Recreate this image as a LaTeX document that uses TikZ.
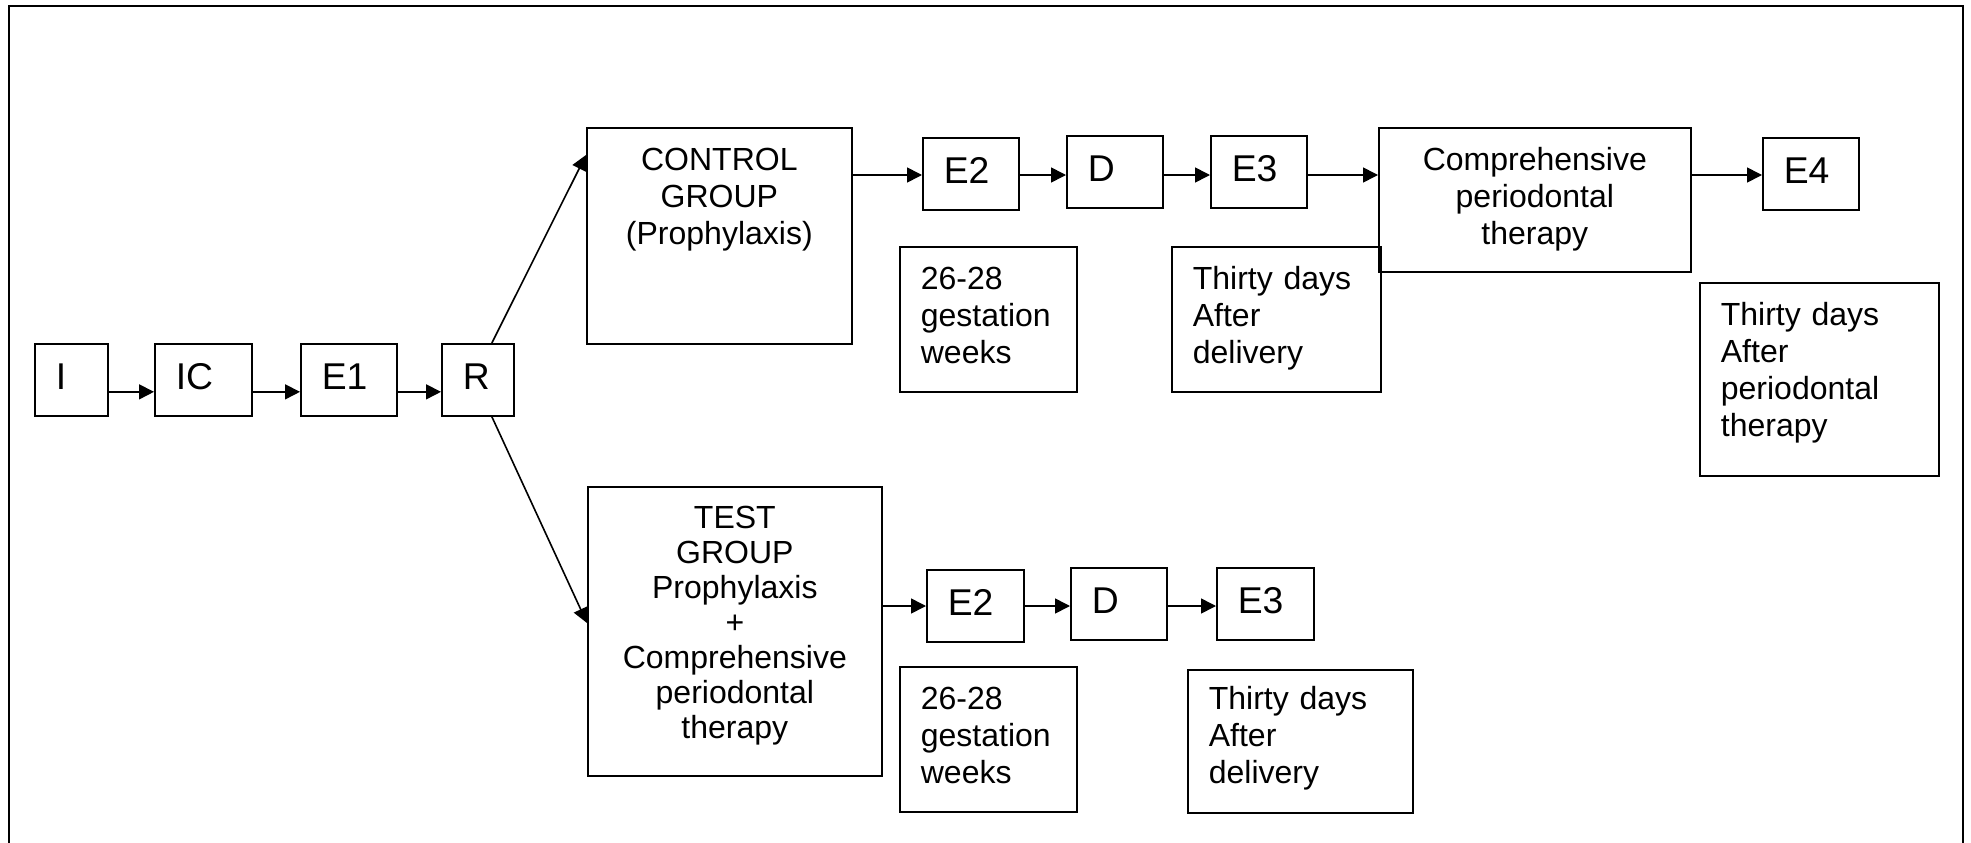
\documentclass[tikz,border=0pt]{standalone}
\usepackage{fontspec}
\setmainfont{Liberation Sans}
\usetikzlibrary{arrows.meta}

\begin{document}
\begin{tikzpicture}[x=1pt,y=-1pt,
    stage/.style={draw,line width=1.7pt,anchor=north west,inner xsep=21pt,inner ysep=0pt,
        minimum height=72pt,text height=27pt,text depth=7pt,align=left,
        font=\fontsize{37.3}{43}\selectfont},
    note/.style={draw,line width=1.7pt,anchor=north west,inner xsep=21pt,inner ysep=0pt,
        text height=43pt,align=left,font=\fontsize{32}{36.8}\selectfont},
    group/.style={note,inner xsep=8pt,align=center},
    flow/.style={line width=1.6pt,-{Triangle[length=15pt,width=15pt]}}]
    \useasboundingbox (0,0) rectangle (1971,843);
    \draw[line width=2pt] (9,843) -- (9,6) -- (1963,6) -- (1963,843);

    \node[stage,text width=31pt] (in) at (34,343) {I};
    \node[stage,text width=55pt] (ic) at (154,343) {IC};
    \node[stage,text width=54pt] (e1) at (300,343) {E1};
    \node[stage,text width=30pt] (rnd) at (441,343) {R};

    \node[group,text width=249pt,text depth=173pt] (ctrl) at (586,127) {CONTROL\\GROUP\\(Prophylaxis)};
    \node[stage,text width=54pt] (e2c) at (922,137) {E2};
    \node[stage,text width=54pt] (dc) at (1066,135) {D};
    \node[stage,text width=54pt] (e3c) at (1210,135) {E3};
    \node[group,text width=296pt,text depth=101pt] (cpt) at (1378,127) {Comprehensive\\periodontal\\therapy};
    \node[stage,text width=54pt] (e4c) at (1762,137) {E4};

    \node[note,text width=135pt,text depth=102pt] (gestc) at (899,246) {26-28\\gestation\\weeks};
    \node[note,text width=167pt,text depth=102pt] (thirtyc) at (1171,246) {Thirty days\\After\\delivery};
    \node[note,text width=197pt,text depth=150pt] (thirtyp) at (1699,282) {Thirty days\\After\\periodontal\\therapy};

    \node[group,text width=278pt,text height=42pt,text depth=247pt,font=\fontsize{32}{35}\selectfont] (test) at (587,486) {TEST\\GROUP\\Prophylaxis\\+\\Comprehensive\\periodontal\\therapy};
    \node[stage,text width=55pt] (e2t) at (926,569) {E2};
    \node[stage,text width=54pt] (dt) at (1070,567) {D};
    \node[stage,text width=55pt] (e3t) at (1216,567) {E3};

    \node[note,text width=135pt,text depth=102pt] (gestt) at (899,666) {26-28\\gestation\\weeks};
    \node[note,text width=183pt,text height=40pt,text depth=103pt] (thirtyt) at (1187,669) {Thirty days\\After\\delivery};

    \coordinate (toprow) at (0,175);
    \coordinate (botrow) at (0,606);

    \draw[flow] ([yshift=-12pt]in.east) -- ([yshift=-12pt]ic.west);
    \draw[flow] ([yshift=-12pt]ic.east) -- ([yshift=-12pt]e1.west);
    \draw[flow] ([yshift=-12pt]e1.east) -- ([yshift=-12pt]rnd.west);

    \draw[flow] ([xshift=14pt]rnd.north) -- ([yshift=-28pt]ctrl.north west);
    \draw[flow] ([xshift=14pt]rnd.south) -- ([yshift=-137pt]test.north west);

    \draw[flow] (ctrl.east |- toprow) -- (e2c.west |- toprow);
    \draw[flow] (e2c.east |- toprow) -- (dc.west |- toprow);
    \draw[flow] (dc.east |- toprow) -- (e3c.west |- toprow);
    \draw[flow] (e3c.east |- toprow) -- (cpt.west |- toprow);
    \draw[flow] (cpt.east |- toprow) -- (e4c.west |- toprow);

    \draw[flow] (test.east |- botrow) -- (e2t.west |- botrow);
    \draw[flow] (e2t.east |- botrow) -- (dt.west |- botrow);
    \draw[flow] (dt.east |- botrow) -- (e3t.west |- botrow);
\end{tikzpicture}
\end{document}
